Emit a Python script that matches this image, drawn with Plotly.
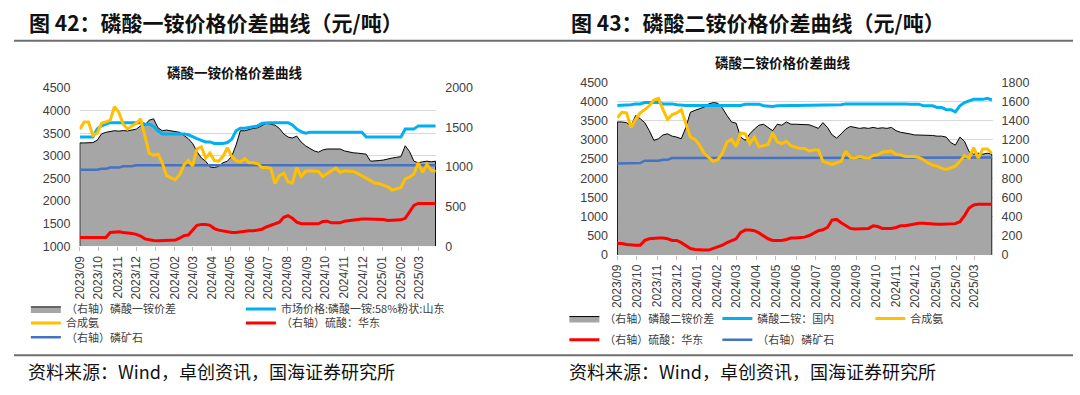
import pandas as pd
import plotly.graph_objects as go

# ---------------- data ----------------
dates = pd.date_range("2023-09-01", periods=83, freq="7D")
month_ticks = pd.date_range("2023-09-01", "2025-03-01", freq="MS")
month_labels = [d.strftime("%Y/%m") for d in month_ticks]

# Figure 42 : MAP (磷酸一铵)
map_spread = [1306, 1306, 1306, 1310, 1339, 1420, 1440, 1450, 1460, 1455,
              1462, 1458, 1465, 1480, 1521, 1530, 1594, 1611, 1497, 1460,
              1468, 1460, 1452, 1440, 1400, 1360, 1299, 1197, 1116, 1075,
              1002, 994, 1010, 1055, 1075, 1136, 1278, 1460, 1460, 1480,
              1490, 1497, 1521, 1555, 1543, 1530, 1489, 1420, 1380, 1368,
              1392, 1318, 1270, 1237, 1205, 1189, 1217, 1229, 1229, 1237,
              1229, 1205, 1189, 1181, 1177, 1172, 1164, 1075, 1075, 1083,
              1090, 1107, 1115, 1124, 1132, 1270, 1197, 1075, 1055, 1067,
              1075, 1067, 1075]
map_price = [3414, 3414, 3414, 3414, 3591, 3662, 3700, 3733, 3733, 3733,
             3733, 3733, 3733, 3733, 3733, 3700, 3700, 3650, 3555, 3485,
             3485, 3485, 3485, 3485, 3485, 3465, 3414, 3378, 3343, 3307,
             3307, 3272, 3272, 3272, 3293, 3364, 3555, 3612, 3612, 3627,
             3648, 3662, 3719, 3733, 3733, 3733, 3733, 3733, 3733, 3684,
             3591, 3534, 3499, 3520, 3520, 3520, 3520, 3520, 3520, 3520,
             3520, 3520, 3520, 3520, 3520, 3520, 3414, 3414, 3414, 3414,
             3414, 3414, 3414, 3414, 3414, 3591, 3591, 3591, 3662, 3662,
             3662, 3662, 3662]
ammonia_1 = [3591, 3747, 3747, 3450, 3508, 3719, 3747, 3790, 4090, 3960,
             3698, 3591, 3662, 3719, 3818, 3414, 3059, 3009, 3037, 2846,
             2562, 2512, 2470, 2583, 2796, 2895, 2775, 3151, 3201, 2952,
             3059, 2895, 2881, 2988, 3179, 2988, 2895, 2867, 2938, 2846,
             2846, 2825, 2739, 2739, 2725, 2384, 2562, 2612, 2420, 2398,
             2739, 2541, 2654, 2668, 2668, 2654, 2541, 2612, 2668, 2725,
             2633, 2668, 2668, 2654, 2612, 2562, 2512, 2455, 2398, 2384,
             2349, 2313, 2242, 2278, 2299, 2491, 2527, 2597, 2846, 2633,
             2810, 2683, 2654]
sulfuric_1 = [110, 110, 110, 110, 110, 110, 110, 174, 183, 183,
              174, 170, 162, 150, 128, 93, 81, 73, 69, 69,
              69, 69, 77, 101, 134, 142, 203, 264, 276, 276,
              264, 223, 203, 191, 183, 174, 174, 183, 191, 195,
              195, 203, 215, 243, 264, 284, 304, 365, 385, 353,
              304, 284, 284, 284, 284, 284, 312, 316, 296, 296,
              296, 316, 325, 333, 337, 345, 345, 345, 345, 345,
              337, 325, 325, 325, 333, 353, 426, 515, 540, 540,
              540, 540, 540]
rock_1 = [966, 966, 966, 966, 966, 978, 978, 994, 994, 994,
          1010, 1010, 1010, 1022, 1022, 1022, 1022, 1022, 1022, 1022,
          1022, 1022, 1022, 1022, 1022, 1022, 1022, 1022, 1022, 1022,
          1022, 1022, 1022, 1022, 1022, 1022, 1022, 1022, 1022, 1022,
          1022, 1022, 1022, 1022, 1022, 1022, 1022, 1022, 1022, 1022,
          1022, 1022, 1022, 1022, 1022, 1022, 1022, 1022, 1022, 1022,
          1022, 1022, 1022, 1022, 1022, 1022, 1022, 1022, 1022, 1022,
          1022, 1022, 1022, 1022, 1022, 1022, 1022, 1022, 1022, 1022,
          1022, 1022, 1022]

# Figure 43 : DAP (磷酸二铵)
dap_spread = [1386, 1386, 1379, 1346, 1453, 1420, 1379, 1295, 1194, 1211,
              1251, 1262, 1238, 1228, 1211, 1329, 1487, 1507, 1521, 1541,
              1574, 1588, 1581, 1531, 1453, 1386, 1373, 1228, 1194, 1262,
              1312, 1352, 1362, 1329, 1295, 1362, 1352, 1386, 1362, 1362,
              1362, 1356, 1356, 1339, 1319, 1379, 1329, 1251, 1218, 1262,
              1312, 1339, 1329, 1319, 1325, 1319, 1329, 1319, 1325, 1319,
              1329, 1295, 1278, 1272, 1262, 1251, 1251, 1245, 1251, 1245,
              1238, 1238, 1228, 1171, 1144, 1228, 1184, 1076, 1050, 1060,
              1050, 1060, 1050]
dap_price = [3894, 3894, 3911, 3911, 3936, 3936, 3970, 3970, 3970, 3970,
             3936, 3936, 3936, 3911, 3894, 3894, 3894, 3894, 3894, 3894,
             3894, 3894, 3894, 3894, 3894, 3894, 3894, 3894, 3928, 3928,
             3928, 3928, 3886, 3869, 3869, 3886, 3894, 3894, 3894, 3894,
             3894, 3894, 3894, 3911, 3911, 3911, 3911, 3911, 3911, 3911,
             3936, 3936, 3936, 3953, 3953, 3953, 3953, 3953, 3953, 3953,
             3953, 3953, 3936, 3936, 3928, 3928, 3928, 3886, 3886, 3886,
             3844, 3844, 3785, 3785, 3726, 3886, 3970, 4020, 4054, 4054,
             4054, 4079, 4037]
ammonia_2 = [3575, 3718, 3701, 3322, 3533, 3701, 3785, 3886, 4037, 4079,
             3785, 3533, 3659, 3701, 3785, 3449, 3070, 3011, 2860, 2649,
             2540, 2439, 2481, 2649, 2944, 3011, 2818, 3179, 3154, 2902,
             3070, 2818, 2843, 2877, 3179, 2944, 2902, 2961, 2843, 2818,
             2776, 2776, 2708, 2734, 2734, 2439, 2397, 2355, 2397, 2439,
             2708, 2540, 2523, 2565, 2540, 2523, 2591, 2607, 2675, 2691,
             2708, 2624, 2607, 2565, 2565, 2565, 2540, 2481, 2397, 2338,
             2313, 2254, 2229, 2271, 2313, 2439, 2591, 2523, 2793, 2523,
             2759, 2759, 2649]
sulfuric_2 = [118, 118, 108, 101, 101, 101, 151, 168, 175, 175,
              175, 168, 151, 151, 128, 94, 67, 57, 50, 50,
              50, 67, 77, 101, 128, 151, 168, 235, 259, 259,
              252, 229, 202, 168, 151, 151, 151, 161, 175, 175,
              178, 185, 202, 229, 252, 262, 286, 363, 370, 336,
              303, 276, 269, 269, 269, 276, 303, 296, 276, 276,
              276, 286, 303, 303, 313, 326, 330, 330, 326, 320,
              320, 320, 320, 320, 326, 346, 410, 488, 521, 528,
              528, 528, 528]
rock_2 = [952, 952, 952, 952, 958, 958, 982, 982, 982, 982,
          992, 992, 1009, 1009, 1009, 1009, 1009, 1009, 1009, 1009,
          1009, 1009, 1009, 1009, 1009, 1009, 1009, 1009, 1009, 1009,
          1009, 1009, 1009, 1009, 1009, 1009, 1009, 1009, 1009, 1009,
          1009, 1009, 1009, 1016, 1016, 1016, 1016, 1016, 1016, 1016,
          1016, 1016, 1016, 1016, 1016, 1016, 1016, 1016, 1016, 1016,
          1016, 1016, 1016, 1016, 1016, 1016, 1016, 1016, 1016, 1016,
          1016, 1016, 1016, 1016, 1016, 1016, 1016, 1016, 1016, 1016,
          1016, 1016, 1016]

# ---------------- styling ----------------
W, H = 1080, 395
CJK = "Noto Sans CJK SC"
NUM = "Liberation Sans"
TICK_COLOR = "#404040"
C_FILL, C_CYAN, C_YELLOW, C_RED, C_BLUE = "#a6a6a6", "#00b0f0", "#ffc000", "#ff0000", "#4472c4"


def fx(p):
    return p / W


def fy(p):
    return 1 - p / H


fig = go.Figure()


def area(x, y, name, xa, ya, lg):
    xs = [x[0]] + list(x) + [x[-1]]
    ys = [0] + list(y) + [0]
    fig.add_trace(go.Scatter(x=xs, y=ys, mode="lines", fill="toself", fillcolor=C_FILL,
                             line=dict(color="#000000", width=1), name=name,
                             xaxis=xa, yaxis=ya, legend=lg))


def line(x, y, name, color, width, xa, ya, lg):
    fig.add_trace(go.Scatter(x=x, y=y, mode="lines", line=dict(color=color, width=width),
                             name=name, xaxis=xa, yaxis=ya, legend=lg))


# left chart  (y = right-hand scale, y2 = left-hand scale drawn on top)
area(dates, map_spread, "（右轴）磷酸一铵价差", "x", "y", "legend")
line(dates, map_price, "市场价格:磷酸一铵:58%粉状:山东", C_CYAN, 3, "x", "y2", "legend")
line(dates, ammonia_1, "合成氨", C_YELLOW, 3, "x", "y2", "legend2")
line(dates, sulfuric_1, "（右轴）硫酸：华东", C_RED, 3, "x", "y", "legend2")
line(dates, rock_1, "（右轴）磷矿石", C_BLUE, 2.5, "x", "y", "legend3")

# right chart (y3 = right-hand scale, y4 = left-hand scale drawn on top)
area(dates, dap_spread, "（右轴）磷酸二铵价差", "x2", "y3", "legend4")
line(dates, dap_price, "磷酸二铵：国内", C_CYAN, 3, "x2", "y4", "legend4")
line(dates, ammonia_2, "合成氨", C_YELLOW, 3, "x2", "y4", "legend4")
line(dates, sulfuric_2, "（右轴）硫酸：华东", C_RED, 3, "x2", "y3", "legend5")
line(dates, rock_2, "（右轴）磷矿石", C_BLUE, 2.5, "x2", "y3", "legend5")

tickfont = dict(family=NUM, size=12.5, color=TICK_COLOR)
xrange = ["2023-08-31 12:00", "2025-03-29"]

xcommon = dict(type="date", range=xrange, tickvals=month_ticks, ticktext=month_labels,
               tickangle=-90, tickfont=dict(family=NUM, size=12, color=TICK_COLOR),
               showgrid=False, zeroline=False, ticks="outside", ticklen=4,
               tickcolor="#bfbfbf", showline=False, fixedrange=True)

ycommon = dict(tickfont=tickfont, zeroline=False, ticks="", ticklabelstandoff=8,
               fixedrange=True)

legend_common = dict(orientation="h", xanchor="left", yanchor="middle",
                     bgcolor="rgba(0,0,0,0)", borderwidth=0, itemwidth=30,
                     entrywidthmode="pixels",
                     font=dict(family=CJK, size=11, color="#404040"))

fig.update_layout(
    width=W, height=H,
    margin=dict(l=0, r=0, t=0, b=0),
    paper_bgcolor="white", plot_bgcolor="white",
    showlegend=True,
    xaxis=dict(domain=[fx(73), fx(432)], anchor="y", **xcommon),
    yaxis=dict(domain=[fy(248), fy(84)], anchor="x", side="right", range=[0, 2000],
               dtick=500, showgrid=False, **ycommon),
    yaxis2=dict(overlaying="y", side="left", anchor="x", range=[1000, 4500], dtick=500,
                showgrid=True, gridcolor="#d9d9d9", gridwidth=1.3, **ycommon),
    xaxis2=dict(domain=[fx(614), fx(992)], anchor="y3", **xcommon),
    yaxis3=dict(domain=[fy(257), fy(78)], anchor="x2", side="right", range=[0, 1800],
                dtick=200, showgrid=False, **ycommon),
    yaxis4=dict(overlaying="y3", side="left", anchor="x2", range=[0, 4500], dtick=500,
                showgrid=True, gridcolor="#d9d9d9", gridwidth=1.3, **ycommon),
    legend=dict(x=fx(19), y=fy(313), entrywidth=170, **legend_common),
    legend2=dict(x=fx(19), y=fy(327.5), entrywidth=170, **legend_common),
    legend3=dict(x=fx(19), y=fy(342.5), entrywidth=170, **legend_common),
    legend4=dict(x=fx(561), y=fy(323), entrywidth=108, **legend_common),
    legend5=dict(x=fx(561), y=fy(345), entrywidth=108, **legend_common),
)

for txt, sx in [("图 <b>42</b>：磷酸一铵价格价差曲线（元/吨）", 20),
                ("图 <b>43</b>：磷酸二铵价格价差曲线（元/吨）", 566)]:
    fig.add_annotation(xref="paper", yref="paper", xanchor="left", yanchor="middle",
                       showarrow=False, text=txt, x=fx(sx), y=fy(16),
                       font=dict(family=CJK, size=21, color="#111111", weight="bold"))

for txt, cx, cy in [("磷酸一铵价格价差曲线", 229, 67), ("磷酸二铵价格价差曲线", 781, 57)]:
    fig.add_annotation(xref="paper", yref="paper", xanchor="center", yanchor="middle",
                       showarrow=False, text="<b>" + txt + "</b>", x=fx(cx), y=fy(cy),
                       font=dict(family=CJK, size=13.5, color="#111111"))

for sx in (19, 564):
    fig.add_annotation(xref="paper", yref="paper", xanchor="left", yanchor="middle",
                       showarrow=False, text="资料来源：Wind，卓创资讯，国海证券研究所",
                       x=fx(sx), y=fy(377), font=dict(family=CJK, size=18, color="#111111"))

for yy in (35, 361):
    fig.add_shape(type="line", xref="paper", yref="paper", x0=fx(7), x1=fx(1073),
                  y0=fy(yy), y1=fy(yy), line=dict(color="#6e6e6e", width=2))

fig.write_html("out.html", config={"displayModeBar": False},
               post_script="document.body.style.margin='0';document.body.style.overflow='hidden';")
